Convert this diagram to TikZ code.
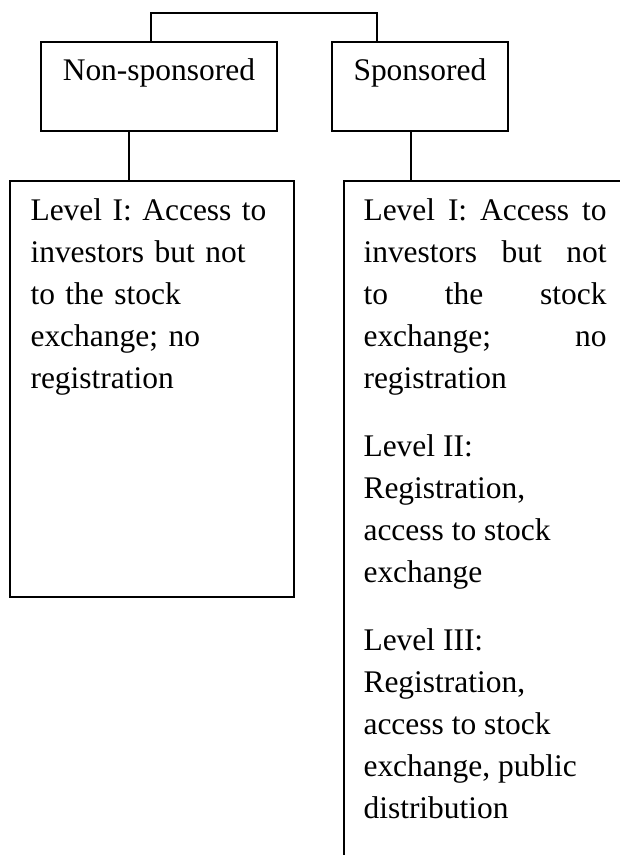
\documentclass[tikz,border=0pt]{standalone}
\usepackage{fontspec}
\setmainfont{Liberation Serif}
\newdimen\pxu
\pxu=0.375pt
\tikzset{
  hdrbox/.style={draw, line width=0.7pt, inner sep=0pt, text height=39\pxu, text depth=50\pxu, anchor=north west},
  lvbox/.style={draw, line width=0.7pt, inner sep=0pt, anchor=north west},
  lvtext/.style={inner sep=0pt, anchor=base west, text width=241\pxu,
    execute at begin node={\tolerance=10000\hbadness=10000\hyphenpenalty=10000}},
  link/.style={line width=0.7pt}
}
\begin{document}
\begin{tikzpicture}[x=0.375pt, y=-0.375pt, font=\fontsize{11.8pt}{15.75pt}\selectfont]
\useasboundingbox (0,0) rectangle (620,855);
\clip (0,0) rectangle (620,855);
% top row
\node[hdrbox, minimum width=236\pxu] (nonspon) at (40,41) {Non-sponsored};
\node[hdrbox, minimum width=176\pxu] (spon) at (331,41) {Sponsored};
% level boxes
\node[lvbox, minimum width=284\pxu, minimum height=416\pxu] (levnon) at (9,180) {};
\node[lvbox, minimum width=300\pxu, minimum height=700\pxu] (levspon) at (343,180) {}; %runs off the page
\node[lvtext] (levnontxt) at (30,220) {Level I: Access to\newline investors but not\newline to the stock\newline exchange; no\newline registration};
\node[lvtext, text width=243\pxu, align=justify] (levspontxt) at (363,220) {\setlength{\parskip}{9.75pt}Level I: Access to\linebreak investors but not\linebreak to the stock\linebreak exchange; no\linebreak registration\par
  Level II:\newline Registration,\newline access to stock\newline exchange\par
  Level III:\newline Registration,\newline access to stock\newline exchange, public\newline distribution};
% connectors
\coordinate (ja) at (151,13);
\coordinate (jb) at (377,13);
\coordinate (jl) at (129,0);
\coordinate (jr) at (411,0);
\draw[link] (nonspon.north -| ja) -- (ja) -- (jb) -- (spon.north -| jb);
\draw[link] (nonspon.south -| jl) -- (levnon.north -| jl);
\draw[link] (spon.south -| jr) -- (levspon.north -| jr);
\end{tikzpicture}
\end{document}
